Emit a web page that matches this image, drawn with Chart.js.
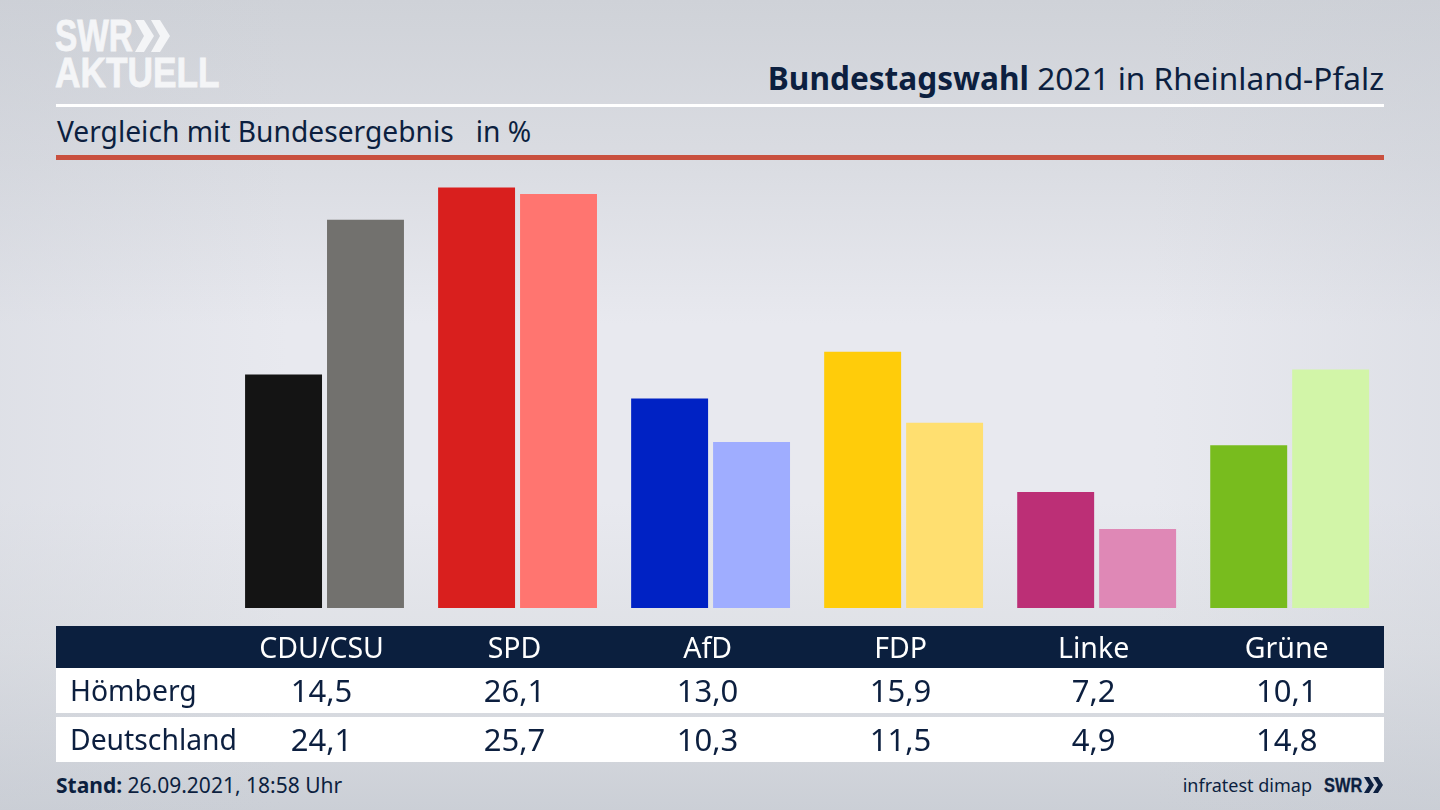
<!DOCTYPE html>
<html lang="de"><head><meta charset="utf-8">
<script src="https://cdn.jsdelivr.net/npm/chart.js@4"></script>
<style>
html,body{margin:0;padding:0}
body{width:1440px;height:810px;overflow:hidden;position:relative;font-family:"Noto Sans",sans-serif;color:#0c1f3f;
background:linear-gradient(90deg,rgba(200,204,212,.3) 0%,rgba(200,204,212,0) 20%,rgba(200,204,212,0) 80%,rgba(200,204,212,.3) 100%),
linear-gradient(180deg,#cfd2d8 0%,#dadce2 20%,#e8e9ef 40%,#e8e9ef 62%,#dfe1e6 80%,#cbcfd6 100%)}
.abs{position:absolute;white-space:nowrap}
canvas{position:absolute;left:0;top:0}
.num{transform:translateX(-50%);font-size:31px;line-height:40px}
.logo{font-family:"Liberation Sans",sans-serif;font-weight:bold;transform-origin:left top;-webkit-text-stroke:.8px currentColor}
</style></head><body>
<div class="abs" style="left:56px;top:626px;width:1328px;height:42px;background:#0b1f3e"></div>
<div class="abs" style="left:56px;top:668px;width:1328px;height:45px;background:#fff"></div>
<div class="abs" style="left:56px;top:717px;width:1328px;height:45px;background:#fff"></div>
<div class="abs" style="left:56px;top:104px;width:1328px;height:3px;background:#fff"></div>
<div class="abs" style="left:56px;top:155px;width:1328px;height:5px;background:#c9503f"></div>
<div class="abs logo" style="left:55px;top:11px;font-size:44px;line-height:50px;color:#f4f5f7;transform:scaleX(.76)">SWR</div>
<svg class="abs" style="left:135px;top:20px" width="36" height="32" fill="#f4f5f7"><polygon points="0,0 9,0 19,16 9,32 0,32 9,16"/><polygon points="16,0 25,0 35,16 25,32 16,32 25,16"/></svg>
<div class="abs logo" style="left:55px;top:47px;font-size:43px;line-height:50px;color:#f4f5f7;transform:scaleX(.82)">AKTUELL</div>
<div class="abs" style="right:56px;top:57px;font-size:31.6px;line-height:42px"><b>Bundestagswahl</b> 2021 in Rheinland-Pfalz</div>
<div class="abs" style="left:57px;top:111px;font-size:28.2px;line-height:40px">Vergleich mit Bundesergebnis&nbsp;&nbsp; in %</div>
<div class="abs" style="left:56px;top:770px;font-size:21px;line-height:30px"><b>Stand:</b> 26.09.2021, 18:58 Uhr</div>
<div class="abs" style="right:128px;top:770px;font-size:18px;line-height:30px">infratest dimap</div>
<div class="abs logo" style="left:1324px;top:773px;font-size:20px;line-height:24px;transform:scaleX(.82);-webkit-text-stroke:.3px currentColor">SWR</div>
<svg class="abs" style="left:1364px;top:777px" width="20" height="16" fill="#0c1f3f"><polygon points="0,0 5,0 10,8 5,16 0,16 5,8"/><polygon points="9,0 14,0 19,8 14,16 9,16 14,8"/></svg>
<canvas id="c" width="1440" height="810"></canvas>
<script>
const categories=["CDU/CSU","SPD","AfD","FDP","Linke","Grüne"];
const seriesNames=["Hömberg","Deutschland"];
const hoemberg=[14.5,26.1,13.0,15.9,7.2,10.1];
const deutschland=[24.1,25.7,10.3,11.5,4.9,14.8];
const coloursHoemberg=["#141414","#d91f1e","#0022c4","#ffcc0a","#bc2f76","#78bc1e"];
const coloursDeutschland=["#72716e","#ff7570","#9fadff","#ffdf70","#df88b6","#d2f5a8"];
const fmt=v=>v.toFixed(1).replace(".",",");
const chart=new Chart(document.getElementById("c"),{
 type:"bar",
 data:{labels:categories,datasets:[
  {label:seriesNames[0],data:hoemberg,backgroundColor:coloursHoemberg},
  {label:seriesNames[1],data:deutschland,backgroundColor:coloursDeutschland}]},
 options:{responsive:false,animation:false,devicePixelRatio:1,
  categoryPercentage:0.849,barPercentage:0.939,
  layout:{padding:{left:228,right:53.8,top:156.9,bottom:0}},
  plugins:{legend:{display:false},tooltip:{enabled:false}},
  scales:{
   y:{display:false,min:0,max:28},
   x:{grid:{display:false},border:{display:false},
      afterFit(s){s.height=202},
      ticks:{color:"#ffffff",padding:17,labelOffset:-3,maxRotation:0,font:{family:"'Noto Sans'",size:28.5}}}
  }}
});
const rows=[[seriesNames[0],hoemberg,670],[seriesNames[1],deutschland,719]];
for(const [name,vals,top] of rows){
 const l=document.createElement("div");l.className="abs";
 l.style.cssText+=`left:70px;top:${top}px;font-size:28.3px;line-height:40px`;l.textContent=name;document.body.appendChild(l);
 vals.forEach((v,i)=>{const d=document.createElement("div");d.className="abs num";
  d.style.left=(chart.scales.x.getPixelForValue(i)-3)+"px";d.style.top=top+"px";d.textContent=fmt(v);document.body.appendChild(d);});
}
</script>
</body></html>
